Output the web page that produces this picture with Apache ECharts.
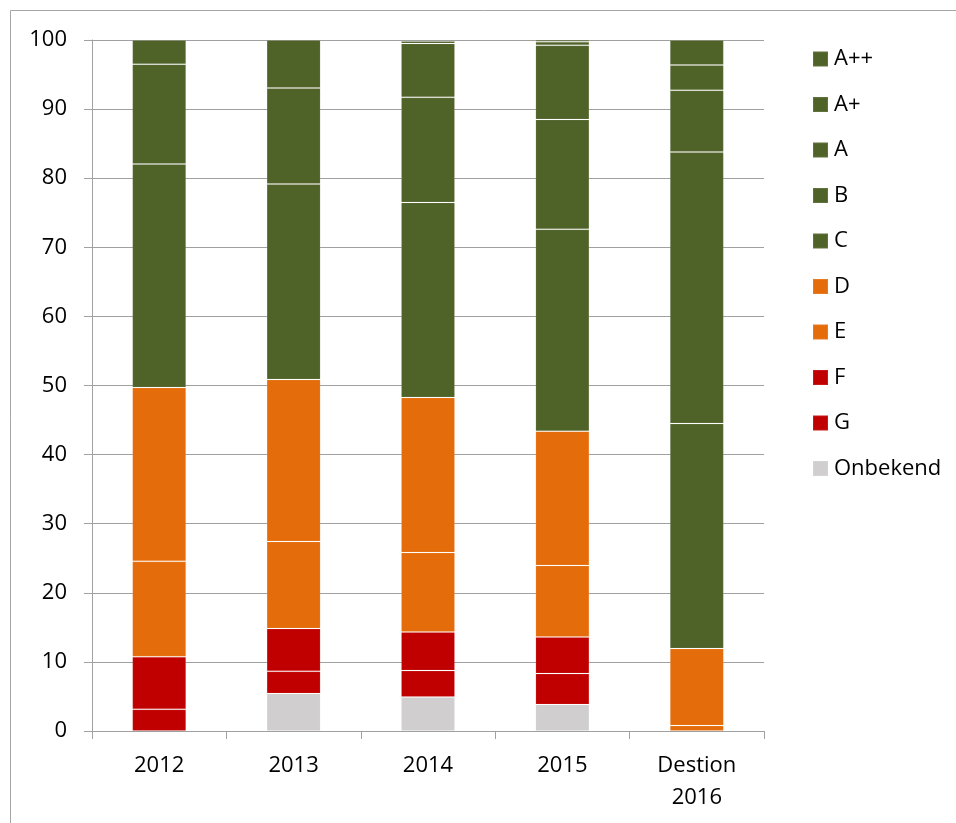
<!DOCTYPE html>
<html>
<head>
<meta charset="utf-8">
<script src="https://cdn.jsdelivr.net/npm/echarts@6/dist/echarts.min.js"></script>
<style>
html,body{margin:0;padding:0;background:#fff;}
#chart{width:956px;height:823px;}
</style>
</head>
<body>
<div id="chart"></div>
<script>
// Categories (x axis)
var categories = ['2012', '2013', '2014', '2015', 'Destion\n2016'];

// Series values (percent), bottom of stack first
var onbekend = [0, 5.41, 4.92, 3.82, 0];
var labelG   = [3.14, 3.23, 3.82, 4.49, 0];
var labelF   = [7.61, 6.18, 5.59, 5.30, 0];
var labelE   = [13.80, 12.60, 11.50, 10.34, 0.78];
var labelD   = [25.15, 23.45, 22.44, 19.44, 11.15];
var labelC   = [32.35, 28.28, 28.23, 29.21, 32.57];
var labelB   = [14.45, 13.90, 15.20, 15.90, 39.28];
var labelA   = [3.50, 6.95, 7.80, 10.73, 8.94];
var labelAp  = [0, 0, 0.35, 0.52, 3.66];
var labelApp = [0, 0, 0, 0.28, 3.62];

// Y axis ticks
var yMin = 0, yMax = 100, yInterval = 10;

// Legend order (top to bottom)
var legendOrder = ['A++', 'A+', 'A', 'B', 'C', 'D', 'E', 'F', 'G', 'Onbekend'];

var GREEN = '#4F6228', ORANGE = '#E46C0A', RED = '#C00000', GRAY = '#D0CECE';
var FONT = 'Open Sans';

var seriesDefs = [
  {name: 'Onbekend', data: onbekend, color: GRAY},
  {name: 'G', data: labelG, color: RED},
  {name: 'F', data: labelF, color: RED},
  {name: 'E', data: labelE, color: ORANGE},
  {name: 'D', data: labelD, color: ORANGE},
  {name: 'C', data: labelC, color: GREEN},
  {name: 'B', data: labelB, color: GREEN},
  {name: 'A', data: labelA, color: GREEN},
  {name: 'A+', data: labelAp, color: GREEN},
  {name: 'A++', data: labelApp, color: GREEN}
];

var series = seriesDefs.map(function (s) {
  return {
    name: s.name,
    type: 'bar',
    stack: 'total',
    barWidth: 54,
    data: s.data.map(function (v) { return v === 0 ? null : v; }),
    itemStyle: {color: s.color, borderColor: 'rgba(255,255,255,0.1)', borderWidth: 1},
    emphasis: {disabled: true}
  };
});

var chart = echarts.init(document.getElementById('chart'), null, {renderer: 'canvas'});
chart.setOption({
  animation: false,
  backgroundColor: '#ffffff',
  textStyle: {fontFamily: FONT},
  graphic: [{
    type: 'rect',
    shape: {x: 10.5, y: 10.5, width: 1000, height: 900},
    style: {fill: 'none', stroke: '#a6a6a6', lineWidth: 1},
    silent: true
  }],
  grid: {left: 92, right: 192, top: 40, bottom: 92, containLabel: false},
  legend: {
    orient: 'vertical',
    left: 807,
    top: 43,
    itemWidth: 15,
    itemHeight: 15,
    itemGap: 23.5,
    icon: 'rect',
    selectedMode: false,
    data: legendOrder,
    textStyle: {fontFamily: FONT, fontSize: 22, color: '#000', lineHeight: 22, padding: [0, 0, 0, 1]}
  },
  xAxis: {
    type: 'category',
    data: categories,
    axisLine: {lineStyle: {color: '#a0a0a0', width: 1}},
    axisTick: {show: true, length: 8, alignWithLabel: false, lineStyle: {color: '#a0a0a0'}},
    axisLabel: {fontFamily: FONT, fontSize: 22, color: '#000', margin: 19, lineHeight: 32, interval: 0}
  },
  yAxis: {
    type: 'value',
    min: yMin,
    max: yMax,
    interval: yInterval,
    axisLine: {show: true, lineStyle: {color: '#a0a0a0', width: 1}},
    axisTick: {show: true, length: 8, lineStyle: {color: '#a0a0a0'}},
    splitLine: {show: true, lineStyle: {color: '#a0a0a0', width: 1}},
    axisLabel: {fontFamily: FONT, fontSize: 22, color: '#000', margin: 25}
  },
  series: series
});
</script>
</body>
</html>
